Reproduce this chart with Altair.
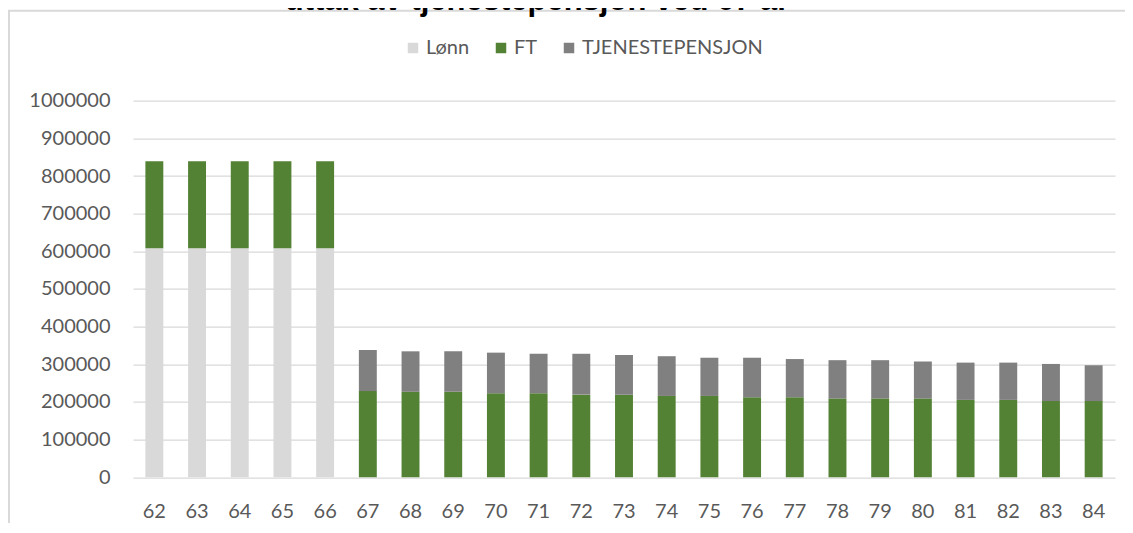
import altair as alt
import pandas as pd

ages = list(range(62, 85))
lonn = [608000, 608000, 608000, 608000, 608000] + [0] * 18
ft = [231000, 231000, 231000, 231000, 231000,
      229000, 227000, 227000, 223000, 223000, 219500, 219500, 216000, 216000,
      212500, 212500, 209000, 209000, 209000, 205500, 205500, 202500, 202500]
tp = [0, 0, 0, 0, 0,
      109000, 107500, 107500, 108000, 105000, 108500, 105500, 105500, 101500,
      105000, 101500, 102000, 102000, 98500, 99000, 99000, 98500, 95000]
series = ["Lønn", "FT", "TJENESTEPENSJON"]
colors = ["#d9d9d9", "#548235", "#808080"]
y_ticks = list(range(0, 1000001, 100000))
title_text = "uttak av tjenestepensjon ved 67 år"

rows = []
for i, a in enumerate(ages):
    for k, (name, vals) in enumerate(zip(series, [lonn, ft, tp])):
        rows.append({"Alder": str(a), "Serie": name, "Verdi": vals[i], "ord": k})
df = pd.DataFrame(rows)

W, H = 982, 376.6

bars = alt.Chart(df).mark_bar().encode(
    x=alt.X("Alder:N", sort=[str(a) for a in ages],
            scale=alt.Scale(paddingInner=0.58, paddingOuter=0.29),
            axis=alt.Axis(title=None, labelAngle=0, domain=False, ticks=False,
                          labelPadding=24, labelBaseline="top", grid=False)),
    y=alt.Y("Verdi:Q", stack="zero",
            scale=alt.Scale(domain=[0, 1000000], nice=False),
            axis=alt.Axis(title=None, values=y_ticks, format="d", domain=False,
                          ticks=False, labelPadding=23, grid=True)),
    color=alt.Color("Serie:N", sort=series,
                    scale=alt.Scale(domain=series, range=colors),
                    legend=alt.Legend(title=None, orient="none", direction="horizontal",
                                      legendX=270, legendY=-62.7, symbolType="square",
                                      symbolSize=110, symbolStrokeWidth=0,
                                      labelOffset=3, columnPadding=21, padding=0,
                                      labelLimit=0)),
    order=alt.Order("ord:Q"),
)

border = alt.Chart(pd.DataFrame({"a": [0]})).mark_rect(
    fill=None, stroke="#d9d9d9", strokeWidth=2
).encode(
    x=alt.value(-124), x2=alt.value(1100),
    y=alt.value(-90), y2=alt.value(460),
)

title = alt.Chart(pd.DataFrame({"t": [title_text]})).mark_text(
    font="Liberation Sans", fontWeight="bold", fontSize=31, color="#000000",
    align="center", baseline="alphabetic"
).encode(
    text="t:N", x=alt.value(404), y=alt.value(-91)
)

chart = alt.layer(border, title, bars).properties(
    width=W, height=H,
    autosize=alt.AutoSizeParams(type="none"),
    padding={"left": 125, "top": 92.7, "right": 10, "bottom": 46},
).configure_view(stroke=None).configure_axis(
    labelFont="Lato", labelFontSize=20, labelColor="#595959",
    gridColor="#d9d9d9", gridWidth=1.3
).configure_legend(
    labelFont="Lato", labelFontSize=20, labelColor="#595959"
)

chart.save("out.html", embed_options={"renderer": "svg", "actions": False})
